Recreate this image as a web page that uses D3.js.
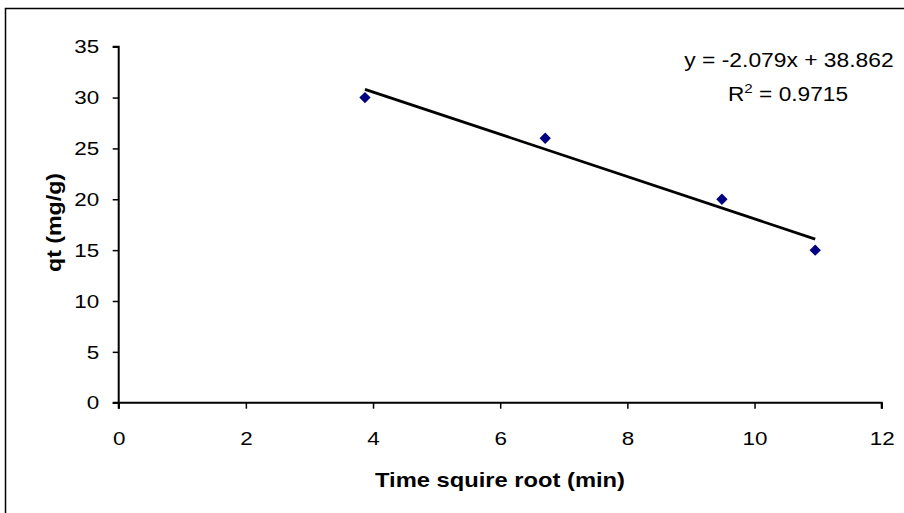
<!DOCTYPE html>
<html><head><meta charset="utf-8">
<script src="https://cdn.jsdelivr.net/npm/d3@7"></script>
<style>body{margin:0;background:#fff}svg{display:block}</style>
</head><body>
<script>
const xValues = [3.873, 6.708, 9.487, 10.954];
const yValues = [30, 26, 20, 15];
const xTicks = [0, 2, 4, 6, 8, 10, 12];
const yTicks = [0, 5, 10, 15, 20, 25, 30, 35];
const slope = -2.079, intercept = 38.862;
const eqText = "y = -2.079x + 38.862";
const r2Text = "0.9715";
const xTitle = "Time squire root (min)";
const yTitle = "qt (mg/g)";

const W = 904, H = 513;
const FONT = "'Liberation Sans', Arial, sans-serif";
const svg = d3.select("body").append("svg").attr("width", W).attr("height", H)
  .style("font-family", FONT);

function stretch(sel, k) {
  sel.each(function () {
    const L = this.getComputedTextLength();
    d3.select(this).attr("textLength", L * k).attr("lengthAdjust", "spacingAndGlyphs");
  });
}

svg.append("rect").attr("x", 5.5).attr("y", 8.5).attr("width", 1000).attr("height", 1000)
  .attr("fill", "none").attr("stroke", "#000").attr("stroke-width", 1.5);

const x = d3.scaleLinear().domain([0, 12]).range([118.7, 881.7]);
const y = d3.scaleLinear().domain([0, 35]).range([402.7, 46.7]);

const gx = svg.append("g").attr("transform", `translate(0,${y(0)})`)
  .call(d3.axisBottom(x).tickValues(xTicks).tickSize(6).tickFormat(d3.format("d")));
const gy = svg.append("g").attr("transform", `translate(${x(0)},0)`)
  .call(d3.axisLeft(y).tickValues(yTicks).tickSize(6).tickFormat(d3.format("d")));
[gx, gy].forEach(g => {
  g.attr("font-family", FONT).attr("font-size", 19);
  g.select(".domain").attr("stroke", "#000").attr("stroke-width", 2);
  g.selectAll(".tick line").attr("stroke", "#000").attr("stroke-width", 1.5);
  g.selectAll(".tick text").attr("fill", "#000").style("font-size", "19px")
    .style("font-family", FONT);
});
gx.selectAll(".tick text").attr("y", 42).attr("dy", 0);
gy.selectAll(".tick text").attr("x", -19.5).attr("dy", "0.33em");
stretch(gx.selectAll(".tick text"), 1.18);
stretch(gy.selectAll(".tick text"), 1.18);
gx.select(".domain").attr("d", `M${x(0)},6V0H${x(12)}V6`);
gy.select(".domain").attr("d", `M-6,${y(35)}H0V${y(0)}H-6`);

// trendline
const x0 = d3.min(xValues), x1 = d3.max(xValues);
svg.append("line")
  .attr("x1", x(x0)).attr("y1", y(slope * x0 + intercept))
  .attr("x2", x(x1)).attr("y2", y(slope * x1 + intercept))
  .attr("stroke", "#000").attr("stroke-width", 2.8);

// markers
svg.selectAll("path.pt").data(xValues.map((v, i) => [v, yValues[i]])).enter()
  .append("path").attr("class", "pt")
  .attr("d", d3.symbol().type(d3.symbolSquare).size(64)())
  .attr("transform", d => `translate(${x(d[0])},${y(d[1])}) rotate(45)`)
  .attr("fill", "#000080");

// equation
const eq = svg.append("text").attr("x", 789).attr("y", 67).attr("text-anchor", "middle")
  .style("font-size", "19.5px").text(eqText);
stretch(eq, 1.17);
const r2 = svg.append("text").attr("x", 788).attr("y", 100.5).attr("text-anchor", "middle")
  .style("font-size", "19.5px");
r2.append("tspan").text("R");
r2.append("tspan").attr("dy", -8).style("font-size", "13px").text("2");
r2.append("tspan").attr("dy", 8).text(" = " + r2Text);
r2.attr("textLength", 120).attr("lengthAdjust", "spacingAndGlyphs");

// axis titles
const xt = svg.append("text").attr("x", 500).attr("y", 486.5).attr("text-anchor", "middle")
  .style("font-size", "21px").style("font-weight", "bold").text(xTitle);
xt.attr("textLength", 250).attr("lengthAdjust", "spacingAndGlyphs");
const yt = svg.append("text").attr("transform", "translate(60.5,222.5) rotate(-90)").attr("text-anchor", "middle")
  .style("font-size", "21px").style("font-weight", "bold").text(yTitle);
yt.attr("textLength", 99).attr("lengthAdjust", "spacingAndGlyphs");
</script>
</body></html>
